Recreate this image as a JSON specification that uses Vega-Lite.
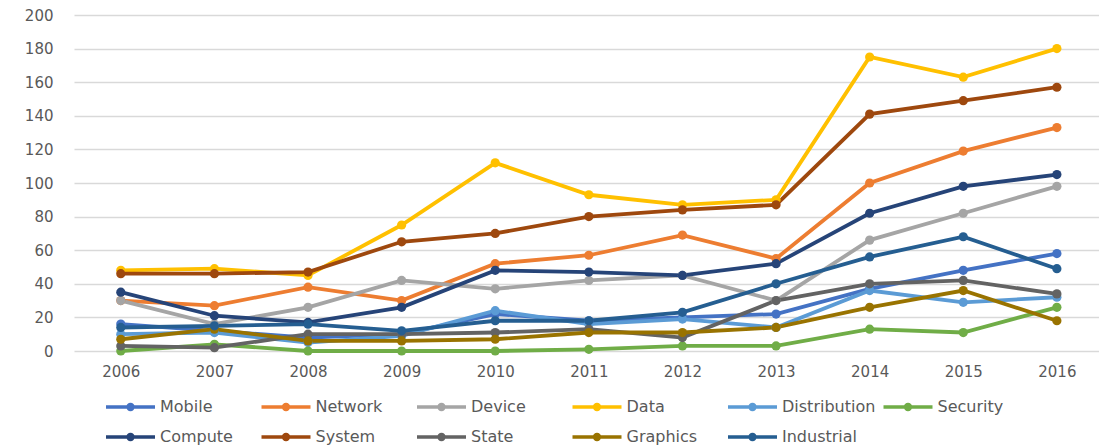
{
  "$schema": "https://vega.github.io/schema/vega-lite/v6.json",
  "width": 1025,
  "height": 336,
  "autosize": "none",
  "padding": {"left": 74, "top": 15, "right": 0, "bottom": 95},
  "background": "white",
  "config": {"view": {"stroke": null}, "font": "DejaVu Sans"},
  "data": {"values": [
    {"series":"Mobile","year":2006,"value":16},{"series":"Mobile","year":2007,"value":12},{"series":"Mobile","year":2008,"value":8},{"series":"Mobile","year":2009,"value":10},{"series":"Mobile","year":2010,"value":22},{"series":"Mobile","year":2011,"value":18},{"series":"Mobile","year":2012,"value":20},{"series":"Mobile","year":2013,"value":22},{"series":"Mobile","year":2014,"value":37},{"series":"Mobile","year":2015,"value":48},{"series":"Mobile","year":2016,"value":58},
    {"series":"Network","year":2006,"value":30},{"series":"Network","year":2007,"value":27},{"series":"Network","year":2008,"value":38},{"series":"Network","year":2009,"value":30},{"series":"Network","year":2010,"value":52},{"series":"Network","year":2011,"value":57},{"series":"Network","year":2012,"value":69},{"series":"Network","year":2013,"value":55},{"series":"Network","year":2014,"value":100},{"series":"Network","year":2015,"value":119},{"series":"Network","year":2016,"value":133},
    {"series":"Device","year":2006,"value":30},{"series":"Device","year":2007,"value":16},{"series":"Device","year":2008,"value":26},{"series":"Device","year":2009,"value":42},{"series":"Device","year":2010,"value":37},{"series":"Device","year":2011,"value":42},{"series":"Device","year":2012,"value":45},{"series":"Device","year":2013,"value":30},{"series":"Device","year":2014,"value":66},{"series":"Device","year":2015,"value":82},{"series":"Device","year":2016,"value":98},
    {"series":"Data","year":2006,"value":48},{"series":"Data","year":2007,"value":49},{"series":"Data","year":2008,"value":45},{"series":"Data","year":2009,"value":75},{"series":"Data","year":2010,"value":112},{"series":"Data","year":2011,"value":93},{"series":"Data","year":2012,"value":87},{"series":"Data","year":2013,"value":90},{"series":"Data","year":2014,"value":175},{"series":"Data","year":2015,"value":163},{"series":"Data","year":2016,"value":180},
    {"series":"Distribution","year":2006,"value":10},{"series":"Distribution","year":2007,"value":11},{"series":"Distribution","year":2008,"value":5},{"series":"Distribution","year":2009,"value":9},{"series":"Distribution","year":2010,"value":24},{"series":"Distribution","year":2011,"value":16},{"series":"Distribution","year":2012,"value":19},{"series":"Distribution","year":2013,"value":14},{"series":"Distribution","year":2014,"value":36},{"series":"Distribution","year":2015,"value":29},{"series":"Distribution","year":2016,"value":32},
    {"series":"Security","year":2006,"value":0},{"series":"Security","year":2007,"value":4},{"series":"Security","year":2008,"value":0},{"series":"Security","year":2009,"value":0},{"series":"Security","year":2010,"value":0},{"series":"Security","year":2011,"value":1},{"series":"Security","year":2012,"value":3},{"series":"Security","year":2013,"value":3},{"series":"Security","year":2014,"value":13},{"series":"Security","year":2015,"value":11},{"series":"Security","year":2016,"value":26},
    {"series":"Compute","year":2006,"value":35},{"series":"Compute","year":2007,"value":21},{"series":"Compute","year":2008,"value":17},{"series":"Compute","year":2009,"value":26},{"series":"Compute","year":2010,"value":48},{"series":"Compute","year":2011,"value":47},{"series":"Compute","year":2012,"value":45},{"series":"Compute","year":2013,"value":52},{"series":"Compute","year":2014,"value":82},{"series":"Compute","year":2015,"value":98},{"series":"Compute","year":2016,"value":105},
    {"series":"System","year":2006,"value":46},{"series":"System","year":2007,"value":46},{"series":"System","year":2008,"value":47},{"series":"System","year":2009,"value":65},{"series":"System","year":2010,"value":70},{"series":"System","year":2011,"value":80},{"series":"System","year":2012,"value":84},{"series":"System","year":2013,"value":87},{"series":"System","year":2014,"value":141},{"series":"System","year":2015,"value":149},{"series":"System","year":2016,"value":157},
    {"series":"State","year":2006,"value":3},{"series":"State","year":2007,"value":2},{"series":"State","year":2008,"value":10},{"series":"State","year":2009,"value":10},{"series":"State","year":2010,"value":11},{"series":"State","year":2011,"value":13},{"series":"State","year":2012,"value":8},{"series":"State","year":2013,"value":30},{"series":"State","year":2014,"value":40},{"series":"State","year":2015,"value":42},{"series":"State","year":2016,"value":34},
    {"series":"Graphics","year":2006,"value":7},{"series":"Graphics","year":2007,"value":13},{"series":"Graphics","year":2008,"value":6},{"series":"Graphics","year":2009,"value":6},{"series":"Graphics","year":2010,"value":7},{"series":"Graphics","year":2011,"value":11},{"series":"Graphics","year":2012,"value":11},{"series":"Graphics","year":2013,"value":14},{"series":"Graphics","year":2014,"value":26},{"series":"Graphics","year":2015,"value":36},{"series":"Graphics","year":2016,"value":18},
    {"series":"Industrial","year":2006,"value":14},{"series":"Industrial","year":2007,"value":15},{"series":"Industrial","year":2008,"value":16},{"series":"Industrial","year":2009,"value":12},{"series":"Industrial","year":2010,"value":18},{"series":"Industrial","year":2011,"value":18},{"series":"Industrial","year":2012,"value":23},{"series":"Industrial","year":2013,"value":40},{"series":"Industrial","year":2014,"value":56},{"series":"Industrial","year":2015,"value":68},{"series":"Industrial","year":2016,"value":49}
  ]},
  "encoding": {
    "x": {
      "field": "year", "type": "quantitative",
      "scale": {"domain": [2005.5, 2016.45], "nice": false, "zero": false},
      "axis": {
        "values": [2006,2007,2008,2009,2010,2011,2012,2013,2014,2015,2016],
        "format": "d", "grid": false, "domain": false, "ticks": false,
        "labelFontSize": 15, "labelColor": "#595959", "labelPadding": 13,
        "labelFlush": false, "labelOverlap": false, "title": null
      }
    },
    "y": {
      "field": "value", "type": "quantitative",
      "scale": {"domain": [0, 200], "nice": false},
      "axis": {
        "values": [0,20,40,60,80,100,120,140,160,180,200],
        "grid": true, "gridColor": "#D9D9D9", "gridWidth": 1.3,
        "domain": false, "ticks": false, "labelPadding": 21,
        "labelFontSize": 15, "labelColor": "#595959", "title": null
      }
    },
    "color": {
      "field": "series", "type": "nominal",
      "scale": {
        "domain": ["Mobile","Network","Device","Data","Distribution","Security","Compute","System","State","Graphics","Industrial"],
        "range": ["#4472C4","#ED7D31","#A5A5A5","#FFC000","#5B9BD5","#70AD47","#264478","#9E480E","#636363","#997300","#255E91"]
      },
      "legend": {
        "orient": "none", "legendX": 30, "legendY": 384, "direction": "horizontal",
        "title": null, "columns": 6, "gridAlign": "all",
        "columnPadding": 5.5, "rowPadding": 14, "clipHeight": 16,
        "symbolType": "M-1,0L1,0M0.1,0A0.1,0.1,0,1,1,-0.1,0A0.1,0.1,0,1,1,0.1,0",
        "symbolSize": 2401, "symbolStrokeWidth": 3.5,
        "labelFontSize": 16, "labelColor": "#595959", "labelOffset": 3, "labelLimit": 300,
        "encode": {
          "symbols": {
            "update": {
              "stroke": {"scale": "color", "field": "value"},
              "fill": {"scale": "color", "field": "value"},
              "strokeWidth": {"value": 3.5},
              "opacity": {"value": 1}
            }
          }
        }
      }
    }
  },
  "layer": [
    {"mark": {"type": "line", "strokeWidth": 3.8}},
    {"mark": {"type": "point", "filled": true, "size": 85, "opacity": 1}}
  ]
}
